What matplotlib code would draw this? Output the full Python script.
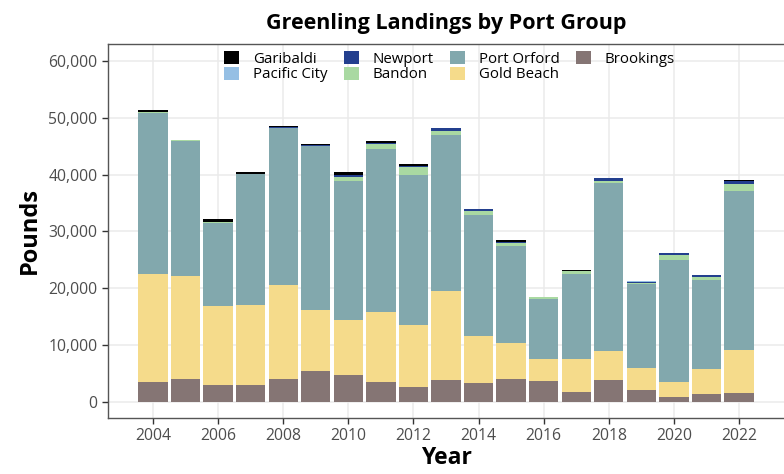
import matplotlib
matplotlib.use("Agg")
import matplotlib.pyplot as plt
import numpy as np
from matplotlib.ticker import FuncFormatter, MultipleLocator

years = list(range(2004, 2023))
brookings = [3470, 4000, 2890, 2890, 3940, 5350, 4650, 3410, 2590, 3820, 3240, 4000, 3590, 1760, 3770, 2000, 830, 1360, 1530]
gold_beach = [19020, 18190, 14020, 14190, 16560, 10740, 9790, 12390, 10860, 15730, 8280, 6280, 3930, 5760, 5210, 3880, 2640, 4340, 7520]
port_orford = [28410, 23670, 14620, 22970, 27700, 28940, 24480, 28650, 26420, 27420, 21420, 17190, 10620, 15020, 29590, 14900, 21490, 15730, 28110]
bandon = [50, 150, 100, 100, 50, 50, 600, 880, 1410, 760, 600, 480, 250, 400, 300, 100, 880, 530, 1230]
newport = [0, 100, 0, 0, 80, 100, 400, 230, 280, 470, 400, 230, 0, 130, 470, 200, 300, 350, 480]
pacific_city = [0, 0, 0, 0, 0, 0, 0, 0, 0, 0, 0, 0, 0, 0, 0, 100, 100, 0, 0]
garibaldi = [420, 50, 470, 300, 150, 250, 470, 300, 300, 50, 50, 300, 50, 50, 100, 0, 0, 0, 150]

series = [
    ("Brookings", brookings, "#857574"),
    ("Gold Beach", gold_beach, "#f5db8b"),
    ("Port Orford", port_orford, "#82a8ad"),
    ("Bandon", bandon, "#a9d9a2"),
    ("Newport", newport, "#233f8e"),
    ("Pacific City", pacific_city, "#95bfe4"),
    ("Garibaldi", garibaldi, "#000000"),
]

plt.rcParams['font.family'] = ['Open Sans', 'DejaVu Sans']

fig = plt.figure(figsize=(7.84, 4.74), dpi=100)
ax = fig.add_axes([108/784, 1 - 418/474, 676/784, (418-44)/474])

bottom = np.zeros(len(years))
handles = {}
for name, vals, col in series:
    v = np.array(vals, dtype=float)
    h = ax.bar(years, v, bottom=bottom, width=0.9, color=col, edgecolor='none', zorder=2, label=name)
    handles[name] = h
    bottom += v

ax.set_xlim(2002.62, 2023.38)
ax.set_ylim(-2870, 63000)
ax.set_xticks(range(2004, 2023, 2))
ax.yaxis.set_major_locator(MultipleLocator(10000))
ax.yaxis.set_major_formatter(FuncFormatter(lambda v, p: f"{int(v):,}"))

ax.grid(True, color='#ebebeb', linewidth=1.1, zorder=0)
ax.set_axisbelow(True)
for s in ['left', 'top', 'bottom']:
    ax.spines[s].set_color('#555555')
    ax.spines[s].set_linewidth(1.0)
ax.spines['right'].set_visible(False)
ax.tick_params(axis='both', colors='#333333', labelcolor='#4d4d4d', labelsize=11.3, length=4, width=1)

ax.set_title("Greenling Landings by Port Group", fontsize=15.5, fontweight='bold', pad=11)
ax.set_ylabel("Pounds", fontsize=17, fontweight='bold', labelpad=5)
ax.set_xlabel("Year", fontsize=16.5, fontweight='bold', labelpad=1)

order = ["Garibaldi", "Pacific City", "Newport", "Bandon", "Port Orford", "Gold Beach", "Brookings"]
leg = ax.legend([handles[n] for n in order], order, ncol=4, loc='upper center',
                bbox_to_anchor=(0.505, 1.0), frameon=False, fontsize=10.8,
                handlelength=1.0, handleheight=1.0, handletextpad=0.9,
                columnspacing=1.1, labelspacing=0.0, borderaxespad=0.05)

fig.savefig("out.png", dpi=100)
